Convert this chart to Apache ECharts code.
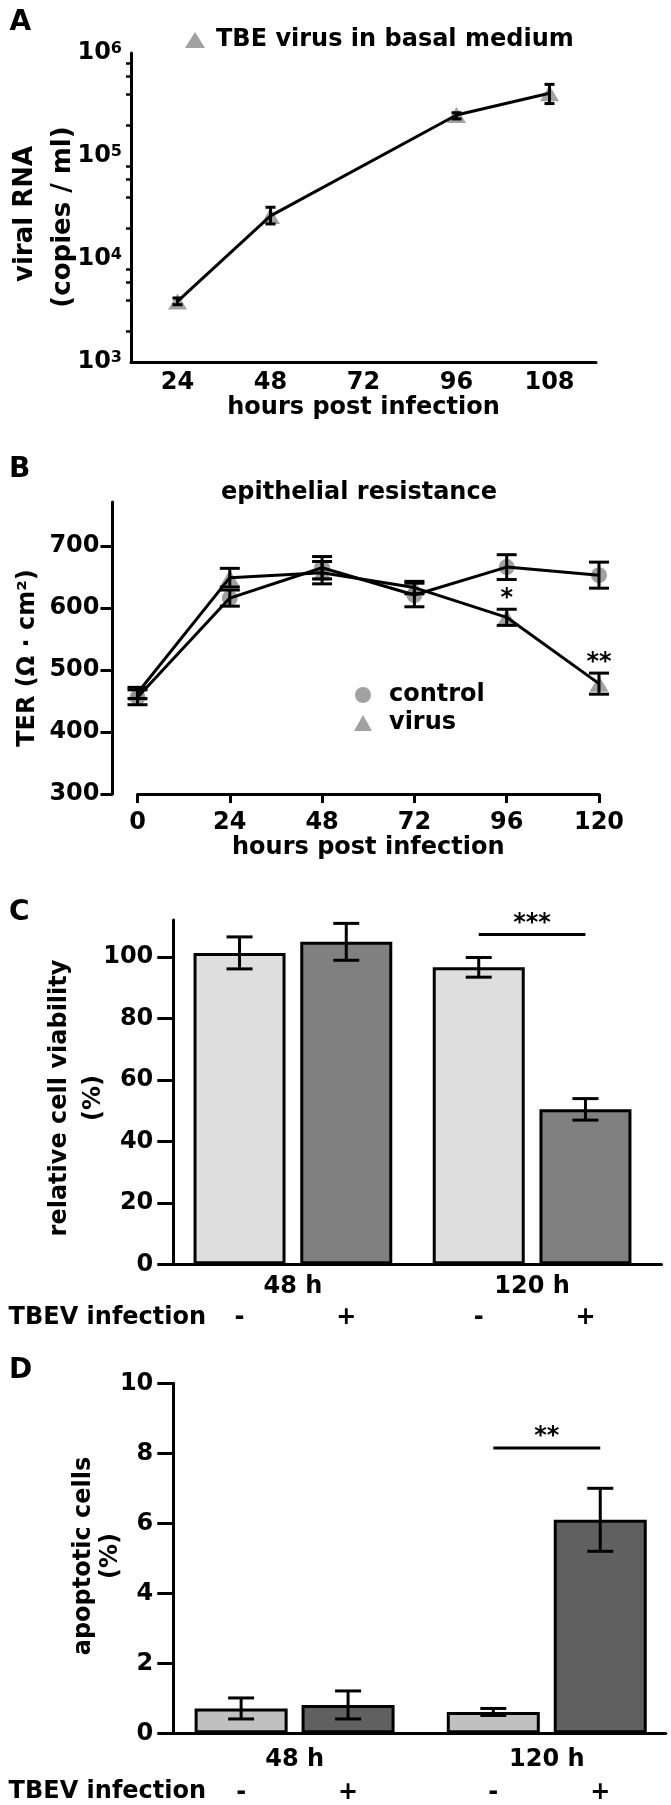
<!DOCTYPE html>
<html><head><meta charset="utf-8">
<script src="https://cdn.jsdelivr.net/npm/echarts@6/dist/echarts.min.js"></script>
<style>html,body{margin:0;padding:0;background:#fff}#c{width:671px;height:1805px}</style>
</head><body><div id="c"></div>
<script>
// ---------------- data ----------------
// Panel A
const hoursA = ['24', '48', '72', '96', '108'];
const viralRNA = [3870, 26200, null, 250000, 407000];
const viralRNALow = [3600, 21900, null, 229000, 323000];
const viralRNAHigh = [4180, 31800, null, 263000, 496000];
const logMinorMultipliers = [2, 4, 6, 8];
// Panel B
const hoursB = [0, 24, 48, 72, 96, 120];
const terControl = [456, 616, 665, 621, 666, 653];
const terControlErr = [12, 13, 18, 19, 20, 21];
const terVirus = [463, 649, 657, 633, 585, 478];
const terVirusErr = [9, 15, 18, 10, 13, 17];
const terSignif = ['', '', '', '', '*', '**'];
const terTicks = [300, 400, 500, 600, 700];
// Panel C
const timeGroups = ['48 h', '120 h'];
const infectionSigns = ['-', '+'];
const viabilityMock = [101.3, 96.6];
const viabilityMockErr = [5.2, 3.2];
const viabilityTBEV = [104.9, 50.4];
const viabilityTBEVErr = [6.0, 3.5];
const viabilityTicks = [0, 20, 40, 60, 80, 100];
const viabilitySignif = [[1, 107.3, '***']];
// Panel D
const apoptosisMock = [0.71, 0.61];
const apoptosisMockErr = [0.3, 0.1];
const apoptosisTBEV = [0.81, 6.1];
const apoptosisTBEVErr = [0.4, 0.9];
const apoptosisSignif = [[1, 8.15, '**']];

// ---------------- styles ----------------
const FONT = 'DejaVu Sans';
const FONTCSS = 'bold 24px "DejaVu Sans"';
const txt = {fontFamily: FONT, fontWeight: 'bold', fontSize: 24, color: '#000'};
const BLACK = '#000';
const MARK = '#8a8a8a';
const C_BAR_W = 92, C_GAP = 0.16;
const D_BAR_W = 93, D_GAP = 0.15;
const cOff = (C_BAR_W * (1 + C_GAP)) / 2;
const dOff = (D_BAR_W * (1 + D_GAP)) / 2;

function errSeries(xi, yi, data, capW, lw, xOffset, z) {
  return {
    type: 'custom', xAxisIndex: xi, yAxisIndex: yi, z: z || 5, silent: true, clip: false,
    data: data,
    renderItem: function (params, api) {
      const x = api.value(0);
      const lo = api.coord([x, api.value(1)]);
      const hi = api.coord([x, api.value(2)]);
      const cx = lo[0] + (xOffset || 0), h = capW / 2;
      const st = {stroke: BLACK, lineWidth: lw, fill: null};
      return {type: 'group', children: [
        {type: 'line', shape: {x1: cx, y1: lo[1], x2: cx, y2: hi[1]}, style: st},
        {type: 'line', shape: {x1: cx - h, y1: lo[1], x2: cx + h, y2: lo[1]}, style: st},
        {type: 'line', shape: {x1: cx - h, y1: hi[1], x2: cx + h, y2: hi[1]}, style: st}
      ]};
    }
  };
}
function signifSeries(xi, yi, data, halfLen) {
  return {
    type: 'custom', xAxisIndex: xi, yAxisIndex: yi, z: 6, silent: true, clip: false,
    data: data.map(d => [d[0], d[1]]),
    renderItem: function (params, api) {
      const p = api.coord([api.value(0), api.value(1)]);
      return {type: 'group', children: [
        {type: 'line', shape: {x1: p[0] - halfLen, y1: p[1], x2: p[0] + halfLen, y2: p[1]},
         style: {stroke: BLACK, lineWidth: 3}},
        {type: 'text', x: p[0], y: p[1] - 11,
         style: {text: data[params.dataIndex][2], font: FONTCSS, fill: BLACK, align: 'center', verticalAlign: 'middle'}}
      ]};
    }
  };
}
function axisLine(w) { return {show: true, onZero: false, lineStyle: {color: BLACK, width: w || 3}}; }

const grids = [
  {left: 131, top: 53, width: 465, height: 309},          // A
  {left: 131, top: 53, width: 465, height: 309},          // A minor ticks
  {left: 137.5, top: 502, width: 461.5, height: 292},     // B
  {left: 173.3, top: 920, width: 488.2, height: 344.3},   // C
  {left: 173.3, top: 1383.3, width: 492.5, height: 350}   // D
];

const xAxes = [
  {gridIndex: 0, type: 'category', data: hoursA, boundaryGap: true,
   axisLine: axisLine(3), axisTick: {alignWithLabel: true, length: 5, lineStyle: {width: 3, color: BLACK}},
   axisLabel: Object.assign({margin: 9}, txt),
   name: 'hours post infection', nameLocation: 'middle', nameGap: 34, nameTextStyle: txt},
  {gridIndex: 1, type: 'value', show: false, min: 0, max: 1},
  {gridIndex: 2, type: 'value', min: 0, max: 120, interval: 24,
   axisLine: axisLine(3), axisTick: {length: 9, lineStyle: {width: 3, color: BLACK}},
   axisLabel: Object.assign({margin: 17}, txt), splitLine: {show: false},
   name: 'hours post infection', nameLocation: 'middle', nameGap: 40, nameTextStyle: txt},
  {gridIndex: 3, type: 'value', min: -0.5, max: 1.541,
   axisLine: axisLine(3), axisTick: {show: false}, splitLine: {show: false},
   axisLabel: Object.assign({margin: 10, customValues: [0, 1], formatter: v => timeGroups[Math.round(v)]}, txt)},
  {gridIndex: 4, type: 'value', min: -0.481, max: 1.472,
   axisLine: axisLine(3), axisTick: {show: false}, splitLine: {show: false},
   axisLabel: Object.assign({margin: 14, customValues: [0, 1], formatter: v => timeGroups[Math.round(v)]}, txt)}
];

const yAxes = [
  {gridIndex: 0, type: 'log', logBase: 10, min: 1e3, max: 1e6, splitNumber: 3,
   axisLine: axisLine(3), axisTick: {length: 9, lineStyle: {width: 3, color: BLACK}},
   splitLine: {show: false},
   axisLabel: {margin: 9, color: BLACK,
     formatter: v => '{b|10}{s|' + Math.round(Math.log10(v)) + '}',
     rich: {b: {fontFamily: FONT, fontWeight: 'bold', fontSize: 24, lineHeight: 24, color: BLACK},
            s: {fontFamily: FONT, fontWeight: 'bold', fontSize: 16, lineHeight: 16, verticalAlign: 'top', color: BLACK}}}},
  {gridIndex: 1, type: 'value', min: 3, max: 6,
   axisLine: {show: false, onZero: false}, axisLabel: {show: false}, splitLine: {show: false},
   axisTick: {show: true, length: 5, lineStyle: {width: 2.5, color: BLACK},
     customValues: [3, 4, 5].flatMap(e => logMinorMultipliers.map(m => e + Math.log10(m)))}},
  {gridIndex: 2, type: 'value', min: 300, max: 771, offset: 25,
   axisLine: axisLine(3), splitLine: {show: false},
   axisTick: {length: 12, customValues: terTicks, lineStyle: {width: 3, color: BLACK}},
   axisLabel: Object.assign({margin: 13, customValues: terTicks}, txt)},
  {gridIndex: 3, type: 'value', min: 0, max: 112,
   axisLine: axisLine(3), splitLine: {show: false},
   axisTick: {length: 16, customValues: viabilityTicks, lineStyle: {width: 3, color: BLACK}},
   axisLabel: Object.assign({margin: 20, customValues: viabilityTicks}, txt)},
  {gridIndex: 4, type: 'value', min: 0, max: 10, interval: 2,
   axisLine: axisLine(3), splitLine: {show: false},
   axisTick: {length: 16, lineStyle: {width: 3, color: BLACK}},
   axisLabel: Object.assign({margin: 20}, txt)}
];

const signLabel = (sign, off) => ({show: true, position: ['50%', '100%'], offset: [0, off],
  formatter: sign, align: 'center', verticalAlign: 'middle',
  fontFamily: FONT, fontWeight: 'bold', fontSize: 24, color: BLACK});

const series = [
  // ---- A ----
  {name: 'TBE virus in basal medium', type: 'scatter', xAxisIndex: 0, yAxisIndex: 0, z: 2,
   symbol: 'triangle', symbolSize: [19, 16], itemStyle: {color: MARK},
   data: hoursA.map((h, i) => viralRNA[i] == null ? null : [i, viralRNA[i]]).filter(Boolean)},
  {type: 'line', xAxisIndex: 0, yAxisIndex: 0, z: 3, symbol: 'none', connectNulls: true,
   lineStyle: {color: BLACK, width: 3}, data: viralRNA},
  errSeries(0, 0, hoursA.map((h, i) => viralRNA[i] == null ? null : [i, viralRNALow[i], viralRNAHigh[i]]).filter(Boolean), 10, 3, 0, 4),
  // ---- B ----
  {name: 'control', type: 'scatter', xAxisIndex: 2, yAxisIndex: 2, z: 2,
   symbol: 'circle', symbolSize: 16, itemStyle: {color: MARK},
   data: hoursB.map((h, i) => [h, terControl[i]])},
  {name: 'virus', type: 'scatter', xAxisIndex: 2, yAxisIndex: 2, z: 2,
   symbol: 'triangle', symbolSize: [19, 16], itemStyle: {color: MARK},
   data: hoursB.map((h, i) => [h, terVirus[i]])},
  {type: 'line', xAxisIndex: 2, yAxisIndex: 2, z: 3, symbol: 'none',
   lineStyle: {color: BLACK, width: 3}, data: hoursB.map((h, i) => [h, terControl[i]])},
  {type: 'line', xAxisIndex: 2, yAxisIndex: 2, z: 3, symbol: 'none',
   lineStyle: {color: BLACK, width: 3}, data: hoursB.map((h, i) => [h, terVirus[i]])},
  errSeries(2, 2, hoursB.map((h, i) => [h, terControl[i] - terControlErr[i], terControl[i] + terControlErr[i]]), 20, 3, 0, 4),
  errSeries(2, 2, hoursB.map((h, i) => [h, terVirus[i] - terVirusErr[i], terVirus[i] + terVirusErr[i]]), 20, 3, 0, 4),
  {type: 'custom', xAxisIndex: 2, yAxisIndex: 2, z: 6, silent: true, clip: false,
   data: hoursB.map((h, i) => [h, terVirus[i] + terVirusErr[i]]),
   renderItem: function (params, api) {
     const s = terSignif[params.dataIndex];
     if (!s) return null;
     const p = api.coord([api.value(0), api.value(1)]);
     return {type: 'text', x: p[0], y: p[1] - 10,
       style: {text: s, font: FONTCSS, fill: BLACK, align: 'center', verticalAlign: 'middle'}};
   }},
  // ---- C ----
  {name: 'C-', type: 'bar', xAxisIndex: 3, yAxisIndex: 3, z: 2, barWidth: C_BAR_W, barGap: (C_GAP * 100) + '%',
   itemStyle: {color: '#dedede', borderColor: BLACK, borderWidth: 3},
   label: signLabel(infectionSigns[0], 53),
   data: timeGroups.map((g, i) => [i, viabilityMock[i]])},
  {name: 'C+', type: 'bar', xAxisIndex: 3, yAxisIndex: 3, z: 2, barWidth: C_BAR_W, barGap: (C_GAP * 100) + '%',
   itemStyle: {color: '#808080', borderColor: BLACK, borderWidth: 3},
   label: signLabel(infectionSigns[1], 53),
   data: timeGroups.map((g, i) => [i, viabilityTBEV[i]])},
  errSeries(3, 3, timeGroups.map((g, i) => [i, viabilityMock[i] - viabilityMockErr[i], viabilityMock[i] + viabilityMockErr[i]]), 26, 3, -cOff, 4),
  errSeries(3, 3, timeGroups.map((g, i) => [i, viabilityTBEV[i] - viabilityTBEVErr[i], viabilityTBEV[i] + viabilityTBEVErr[i]]), 26, 3, cOff, 4),
  signifSeries(3, 3, viabilitySignif, cOff),
  // ---- D ----
  {name: 'D-', type: 'bar', xAxisIndex: 4, yAxisIndex: 4, z: 2, barWidth: D_BAR_W, barGap: (D_GAP * 100) + '%',
   itemStyle: {color: '#c0c0c0', borderColor: BLACK, borderWidth: 3},
   label: signLabel(infectionSigns[0], 59),
   data: timeGroups.map((g, i) => [i, apoptosisMock[i]])},
  {name: 'D+', type: 'bar', xAxisIndex: 4, yAxisIndex: 4, z: 2, barWidth: D_BAR_W, barGap: (D_GAP * 100) + '%',
   itemStyle: {color: '#606060', borderColor: BLACK, borderWidth: 3},
   label: signLabel(infectionSigns[1], 59),
   data: timeGroups.map((g, i) => [i, apoptosisTBEV[i]])},
  errSeries(4, 4, timeGroups.map((g, i) => [i, apoptosisMock[i] - apoptosisMockErr[i], apoptosisMock[i] + apoptosisMockErr[i]]), 26, 3, -dOff, 4),
  errSeries(4, 4, timeGroups.map((g, i) => [i, apoptosisTBEV[i] - apoptosisTBEVErr[i], apoptosisTBEV[i] + apoptosisTBEVErr[i]]), 26, 3, dOff, 4),
  signifSeries(4, 4, apoptosisSignif, dOff)
];

function gtext(text, x, y, opts) {
  opts = opts || {};
  return {type: 'text', x: x, y: y, rotation: opts.rot || 0, z: 10,
    style: {text: text, font: opts.font || FONTCSS, fill: BLACK,
      align: opts.align || 'center', verticalAlign: 'middle'}};
}
const ROT = Math.PI / 2;
const FONT26 = 'bold 26px "DejaVu Sans"';
const graphics = [
  gtext('A', 9.5, 23, {align: 'left', font: 'bold 28px "DejaVu Sans"'}),
  gtext('B', 9, 470, {align: 'left', font: 'bold 28px "DejaVu Sans"'}),
  gtext('C', 9, 913, {align: 'left', font: 'bold 28px "DejaVu Sans"'}),
  gtext('D', 9, 1371, {align: 'left', font: 'bold 28px "DejaVu Sans"'}),
  gtext('viral RNA', 25, 214, {rot: ROT, font: FONT26}),
  gtext('(copies / ml)', 63, 217, {rot: ROT, font: FONT26}),
  gtext('epithelial resistance', 359, 493),
  gtext('TER (\u03A9 \u00B7 cm\u00B2)', 28, 658, {rot: ROT}),
  gtext('relative cell viability', 60, 1098, {rot: ROT}),
  gtext('(%)', 94, 1098, {rot: ROT}),
  gtext('TBEV infection', 8.6, 1317.5, {align: 'left'}),
  gtext('apoptotic cells', 84, 1556, {rot: ROT}),
  gtext('(%)', 111, 1556, {rot: ROT}),
  gtext('TBEV infection', 8.6, 1792, {align: 'left'})
];

const legendText = {fontFamily: FONT, fontWeight: 'bold', fontSize: 24, color: BLACK, lineHeight: 24, padding: [0, 0, 0, 6]};
const option = {
  animation: false,
  backgroundColor: '#fff',
  grid: grids,
  xAxis: xAxes,
  yAxis: yAxes,
  legend: [
    {left: 180, top: 23, itemWidth: 20, itemHeight: 16, selectedMode: false,
     data: [{name: 'TBE virus in basal medium', icon: 'triangle'}], textStyle: legendText},
    {left: 349, top: 678, orient: 'vertical', itemWidth: 18, itemHeight: 16, itemGap: 4, selectedMode: false,
     data: [{name: 'control', icon: 'circle'}, {name: 'virus', icon: 'triangle'}],
     textStyle: Object.assign({}, legendText, {padding: [0, 0, 0, 12]})}
  ],
  graphic: graphics,
  series: series
};
const chart = echarts.init(document.getElementById('c'), null, {renderer: 'canvas'});
chart.setOption(option);
</script>
</body></html>
